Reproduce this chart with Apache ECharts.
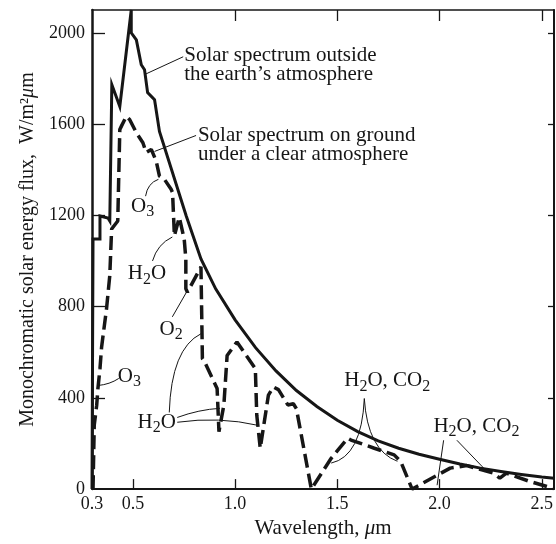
<!DOCTYPE html>
<html>
<head>
<meta charset="utf-8">
<script src="https://cdn.jsdelivr.net/npm/echarts@6/dist/echarts.min.js"></script>
<style>
  html, body { margin: 0; padding: 0; background: #ffffff; }
  #chart { width: 556px; height: 544px; }
</style>
</head>
<body>
<div id="chart"></div>
<script>
// Wavelength in micrometres, monochromatic flux in W/(m^2 um)
const outsideWavelength = [0.300, 0.305, 0.339, 0.339, 0.378, 0.387, 0.397, 0.436, 0.492, 0.492,
  0.517, 0.541, 0.557, 0.572, 0.606, 0.630, 0.761, 0.833, 0.905, 1.0, 1.1, 1.2, 1.3, 1.4, 1.5,
  1.6, 1.7, 1.8, 1.9, 2.0, 2.1, 2.2, 2.3, 2.4, 2.5, 2.56];
const outsideFlux = [0, 1096, 1096, 1197, 1188, 1175, 1773, 1677, 2100, 2000,
  1969, 1860, 1838, 1738, 1707, 1568, 1197, 1009, 878, 742, 620, 518, 432, 362, 302,
  252, 211, 179, 153, 131, 110, 92, 77, 64, 53, 48];

const groundWavelength = [0.305, 0.311, 0.323, 0.329, 0.339, 0.347, 0.371, 0.387, 0.396, 0.397,
  0.426, 0.436, 0.444, 0.468, 0.484, 0.517, 0.549, 0.565, 0.590, 0.614, 0.630, 0.654, 0.687,
  0.694, 0.703, 0.727, 0.735, 0.751, 0.759, 0.759, 0.767, 0.833, 0.840, 0.848, 0.912, 0.921,
  0.945, 0.961, 1.009, 1.099, 1.106, 1.123, 1.163, 1.187, 1.212, 1.258, 1.285, 1.300, 1.373,
  1.470, 1.551, 1.567, 1.681, 1.778, 1.810, 1.866, 2.052, 2.133, 2.263, 2.295, 2.327, 2.440, 2.56];
const groundFlux = [0, 281, 368, 441, 528, 623, 790, 936, 1140, 1148,
  1175, 1576, 1591, 1634, 1620, 1562, 1518, 1475, 1489, 1438, 1372, 1358, 1314,
  1300, 1110, 1191, 1183, 1096, 1009, 878, 863, 974, 572, 563, 441, 252,
  368, 586, 645, 528, 324, 179, 412, 448, 436, 369, 374, 352, 0,
  135, 223, 215, 179, 150, 121, 0, 92, 103, 70, 48, 70, 34, 2];

const xTickValues = [0.5, 1.0, 1.5, 2.0, 2.5];
const xTopTickValues = [1.0, 1.5, 2.0, 2.5];
const xLabelValues = [0.3, 0.5, 1.0, 1.5, 2.0, 2.5];
const yTickValues = [400, 800, 1200, 1600, 2000];
const yLabelValues = [0, 400, 800, 1200, 1600, 2000];

const INK = '#161616';
const SERIF = '"Liberation Serif", "DejaVu Serif", serif';

// Callout labels with their leader lines (two points: straight, three: curved via middle control)
const callouts = [
  { text: 'Solar spectrum outside\nthe earth\u2019s atmosphere', at: [0.751, 1860], align: 'left',
    leaders: [[[0.746, 1895], [0.557, 1817]]] },
  { text: 'Solar spectrum on ground\nunder a clear atmosphere', at: [0.818, 1507], align: 'left',
    leaders: [[[0.809, 1550], [0.606, 1480]]] },
  { text: 'O{s|3}', at: [0.491, 1238], align: 'left',
    leaders: [[[0.562, 1284], [0.572, 1341], [0.625, 1358]]] },
  { text: 'H{s|2}O', at: [0.475, 943], align: 'left',
    leaders: [[[0.596, 1000], [0.620, 1074], [0.693, 1105]]] },
  { text: 'O{s|2}', at: [0.630, 699], align: 'left',
    leaders: [[[0.693, 755], [0.766, 869]]] },
  { text: 'O{s|3}', at: [0.426, 493], align: 'left',
    leaders: [[[0.431, 485], [0.387, 459], [0.329, 454]]] },
  { text: 'H{s|2}O', at: [0.523, 293], align: 'left',
    leaders: [
      [[0.678, 336], [0.688, 616], [0.833, 681]],
      [[0.717, 314], [0.824, 349], [0.926, 354]],
      [[0.717, 293], [0.921, 319], [1.115, 279]]
    ] },
  { text: 'H{s|2}O, CO{s|2}', at: [1.534, 474], align: 'left',
    leaders: [
      [[1.632, 397], [1.619, 144], [1.470, 114]],
      [[1.632, 397], [1.648, 170], [1.794, 122]]
    ] },
  { text: 'H{s|2}O, CO{s|2}', at: [1.970, 275], align: 'left',
    leaders: [
      [[2.020, 214], [1.988, 17]],
      [[2.085, 214], [2.216, 92]]
    ] }
];

function pairs(xs, ys) { return xs.map((x, i) => [x, ys[i]]); }

function renderCallout(params, api) {
  const c = callouts[params.dataIndex];
  const p = api.coord(c.at);
  const children = [{
    type: 'text', x: p[0], y: p[1], silent: true,
    style: {
      text: c.text, fill: INK, fontSize: 21, fontFamily: SERIF, lineHeight: 19,
      align: c.align, verticalAlign: 'middle',
      rich: { s: { fontSize: 16, fontFamily: SERIF, lineHeight: 16, padding: [11, 0, 0, 0], fill: INK } }
    }
  }];
  c.leaders.forEach(l => {
    const a = api.coord(l[0]);
    const b = api.coord(l[l.length - 1]);
    if (l.length === 3) {
      const m = api.coord(l[1]);
      children.push({ type: 'bezierCurve', silent: true,
        shape: { x1: a[0], y1: a[1], x2: b[0], y2: b[1], cpx1: m[0], cpy1: m[1] },
        style: { stroke: INK, lineWidth: 1, fill: null } });
    } else {
      children.push({ type: 'line', silent: true,
        shape: { x1: a[0], y1: a[1], x2: b[0], y2: b[1] },
        style: { stroke: INK, lineWidth: 1 } });
    }
  });
  return { type: 'group', children };
}

const chart = echarts.init(document.getElementById('chart'), null, { renderer: 'canvas' });
chart.setOption({
  animation: false,
  backgroundColor: '#ffffff',
  textStyle: { fontFamily: SERIF, color: INK },
  grid: { left: 92, top: 10, width: 466, height: 481, containLabel: false },
  xAxis: [{
    type: 'value', min: 0.3, max: 2.56, position: 'bottom',
    axisLine: { show: true, onZero: false, lineStyle: { color: INK, width: 2 } },
    axisTick: { show: true, inside: true, length: 10, customValues: xTickValues, lineStyle: { color: INK, width: 1.3 } },
    axisLabel: { customValues: xLabelValues, formatter: v => v.toFixed(1), fontSize: 18, fontFamily: SERIF, color: INK, margin: 6 },
    splitLine: { show: false },
    name: 'Wavelength, {i|\u03bc}m', nameLocation: 'middle', nameGap: 23,
    nameTextStyle: { fontSize: 21, fontFamily: SERIF, color: INK,
      rich: { i: { fontSize: 21, fontFamily: SERIF, fontStyle: 'italic', color: INK } } }
  }, {
    type: 'value', min: 0.3, max: 2.56, position: 'top',
    axisLine: { show: true, onZero: false, lineStyle: { color: INK, width: 1.5 } },
    axisTick: { show: true, inside: true, length: 11, customValues: xTopTickValues, lineStyle: { color: INK, width: 1.3 } },
    axisLabel: { show: false }, splitLine: { show: false }
  }],
  yAxis: [{
    type: 'value', min: 0, max: 2100, position: 'left',
    axisLine: { show: true, onZero: false, lineStyle: { color: INK, width: 2.5 } },
    axisTick: { show: true, inside: true, length: 13, customValues: yTickValues, lineStyle: { color: INK, width: 1.3 } },
    axisLabel: { customValues: yLabelValues, formatter: v => String(v), fontSize: 18, fontFamily: SERIF, color: INK, margin: 7 },
    splitLine: { show: false },
    name: 'Monochromatic solar energy flux,  W/m\u00b2{i|\u03bc}m', nameLocation: 'middle', nameGap: 53,
    nameTextStyle: { fontSize: 20, fontFamily: SERIF, color: INK,
      rich: { i: { fontSize: 20, fontFamily: SERIF, fontStyle: 'italic', color: INK } } }
  }, {
    type: 'value', min: 0, max: 2100, position: 'right',
    axisLine: { show: true, onZero: false, lineStyle: { color: INK, width: 2 } },
    axisTick: { show: true, inside: true, length: 6, customValues: yTickValues, lineStyle: { color: INK, width: 1.3 } },
    axisLabel: { show: false }, splitLine: { show: false }
  }],
  series: [{
    name: 'Outside the atmosphere', type: 'line', xAxisIndex: 0, yAxisIndex: 0,
    data: pairs(outsideWavelength, outsideFlux), showSymbol: false, symbol: 'none',
    lineStyle: { color: INK, width: 3, join: 'miter' }, z: 3
  }, {
    name: 'On ground, clear sky', type: 'line', xAxisIndex: 0, yAxisIndex: 0,
    data: pairs(groundWavelength, groundFlux), showSymbol: false, symbol: 'none',
    lineStyle: { color: INK, width: 3.5, type: [14, 6] }, z: 4
  }, {
    name: 'callouts', type: 'custom', xAxisIndex: 0, yAxisIndex: 0,
    data: callouts.map(c => c.at), renderItem: renderCallout, clip: false, silent: true, z: 5
  }]
});
</script>
</body>
</html>
